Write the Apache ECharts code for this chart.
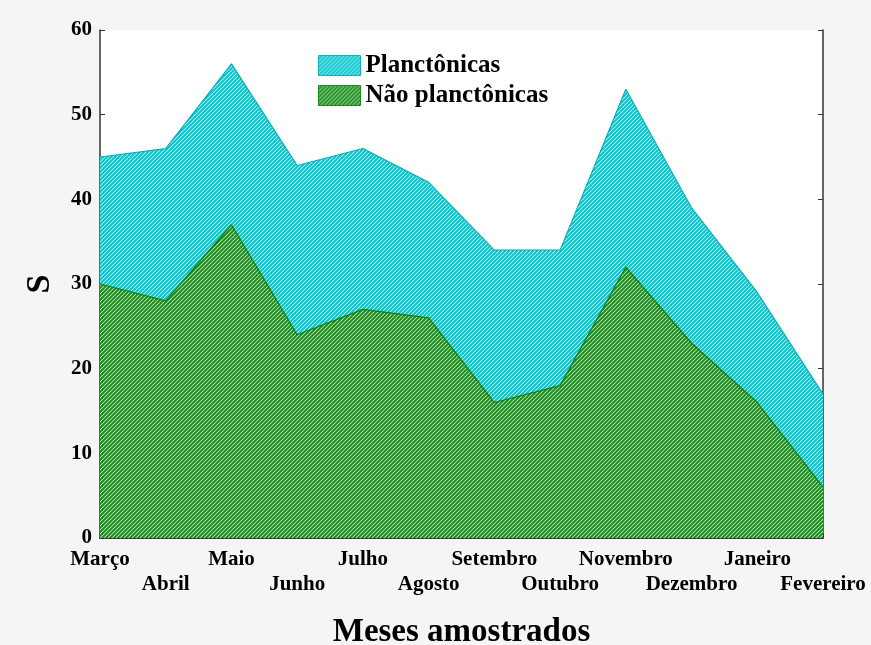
<!DOCTYPE html>
<html>
<head>
<meta charset="utf-8">
<script src="https://cdn.jsdelivr.net/npm/echarts@6/dist/echarts.min.js"></script>
<style>
  html, body { margin: 0; padding: 0; background: #f5f5f5; }
  #chart { width: 871px; height: 645px; }
</style>
</head>
<body>
<div id="chart"></div>
<script>
// dados
const meses = ['Março', 'Abril', 'Maio', 'Junho', 'Julho', 'Agosto', 'Setembro',
               'Outubro', 'Novembro', 'Dezembro', 'Janeiro', 'Fevereiro'];
const planctonicas = [45, 46, 56, 44, 46, 42, 34, 34, 53, 39, 29, 17];
const naoPlanctonicas = [30, 28, 37, 24, 27, 26, 16, 18, 32, 23, 16, 6];
const yTicks = [0, 10, 20, 30, 40, 50, 60];

// padrão hachurado (linhas diagonais)
function hatch(fg, bg) {
    const c = document.createElement('canvas');
    c.width = 4; c.height = 4;
    const ctx = c.getContext('2d');
    ctx.fillStyle = bg;
    ctx.fillRect(0, 0, 4, 4);
    ctx.strokeStyle = fg;
    ctx.lineWidth = 2;
    ctx.beginPath();
    ctx.moveTo(-1, 1); ctx.lineTo(1, -1);
    ctx.moveTo(0, 4); ctx.lineTo(4, 0);
    ctx.moveTo(3, 5); ctx.lineTo(5, 3);
    ctx.stroke();
    return { image: c, repeat: 'repeat' };
}

const cyanFill = hatch('#00c6ce', '#d8f8fa');
const greenFill = hatch('#1a8c1a', '#d0efd0');

const chart = echarts.init(document.getElementById('chart'));
const font = 'Liberation Serif, Times New Roman, serif';

chart.setOption({
    backgroundColor: '#f5f5f5',
    textStyle: { fontFamily: font },
    animation: false,
    grid: {
        left: 100, right: 48, top: 30, bottom: 107, outerBoundsMode: 'none',
        show: true, backgroundColor: '#fff', borderWidth: 0
    },
    legend: {
        left: 313, top: 48, orient: 'vertical', icon: 'rect',
        itemWidth: 42, itemHeight: 20, itemGap: 5,
        textStyle: { fontFamily: font, fontWeight: 'bold', fontSize: 25, color: '#000' },
        data: [
            { name: 'Planctônicas', itemStyle: { color: cyanFill, borderColor: '#12b0b8', borderWidth: 1 } },
            { name: 'Não planctônicas', itemStyle: { color: greenFill, borderColor: '#1a8a1a', borderWidth: 1 } }
        ]
    },
    xAxis: [{
        type: 'category', data: meses, boundaryGap: false,
        name: 'Meses amostrados', nameLocation: 'middle', nameGap: 78,
        nameTextStyle: { fontFamily: font, fontWeight: 'bold', fontSize: 33, color: '#000' },
        axisLine: { lineStyle: { color: '#333', width: 1.5 } },
        axisTick: { inside: true, length: 4, lineStyle: { color: '#333' } },
        axisLabel: {
            interval: 0, color: '#000', fontWeight: 'bold', fontSize: 21, fontFamily: font,
            margin: 9, lineHeight: 25,
            formatter: (v, i) => (i % 2 === 1 ? '\n' + v : v)
        },
        splitLine: { show: false }
    }, {
        type: 'category', data: meses, boundaryGap: false, position: 'top',
        axisLine: { lineStyle: { color: '#333', width: 1.5 } },
        axisTick: { show: false }, axisLabel: { show: false }
    }],
    yAxis: [{
        type: 'value', min: 0, max: 60, interval: 10,
        name: 'S', nameLocation: 'middle', nameGap: 43, nameRotate: 90,
        nameTextStyle: { fontFamily: font, fontWeight: 'bold', fontSize: 34, color: '#000' },
        axisLine: { show: true, lineStyle: { color: '#333', width: 1.5 } },
        axisTick: { show: true, inside: true, length: 5, lineStyle: { color: '#333' } },
        axisLabel: {
            color: '#000', fontWeight: 'bold', fontSize: 21, fontFamily: font, margin: 8,
            formatter: v => (yTicks.includes(v) ? String(v) : '')
        },
        splitLine: { show: false }
    }, {
        type: 'value', min: 0, max: 60, interval: 10, position: 'right',
        axisLine: { show: true, lineStyle: { color: '#333', width: 1.5 } },
        axisTick: { show: true, inside: true, length: 5, lineStyle: { color: '#333' } },
        axisLabel: { show: false }, splitLine: { show: false }
    }],
    series: [{
        name: 'Planctônicas', type: 'line', data: planctonicas,
        symbol: 'none', z: 2,
        lineStyle: { color: '#12aab2', width: 1.2 },
        itemStyle: { color: cyanFill },
        areaStyle: { color: cyanFill, opacity: 1 }
    }, {
        name: 'Não planctônicas', type: 'line', data: naoPlanctonicas,
        symbol: 'none', z: 3,
        lineStyle: { color: '#137d13', width: 1.2 },
        itemStyle: { color: greenFill },
        areaStyle: { color: greenFill, opacity: 1 }
    }]
});
</script>
</body>
</html>
